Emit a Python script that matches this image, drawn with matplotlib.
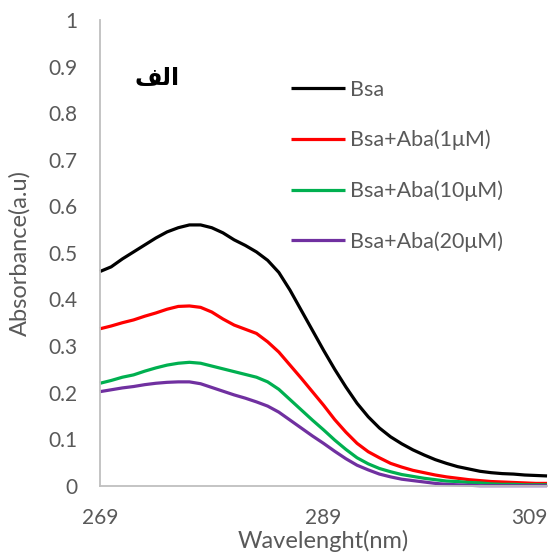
import matplotlib.pyplot as plt
import numpy as np

# wavelength grid (nm)
wavelength = [269, 270, 271, 272, 273, 274, 275, 276, 277, 278, 279, 280, 281, 282,
              283, 284, 285, 286, 287, 288, 289, 290, 291, 292, 293, 294, 295, 296,
              297, 298, 299, 300, 301, 302, 303, 304, 305, 306, 307, 308, 309]

bsa = [0.460, 0.470, 0.487, 0.502, 0.517, 0.532, 0.545, 0.554, 0.560, 0.560, 0.554,
       0.543, 0.528, 0.516, 0.502, 0.484, 0.458, 0.420, 0.377, 0.334, 0.291, 0.250,
       0.212, 0.177, 0.148, 0.124, 0.105, 0.090, 0.077, 0.066, 0.056, 0.048, 0.041,
       0.036, 0.031, 0.028, 0.026, 0.025, 0.023, 0.022, 0.021]

aba_1 = [0.337, 0.343, 0.350, 0.356, 0.364, 0.371, 0.379, 0.385, 0.386, 0.383, 0.373,
         0.358, 0.345, 0.336, 0.327, 0.309, 0.287, 0.259, 0.231, 0.202, 0.173, 0.142,
         0.115, 0.091, 0.073, 0.060, 0.048, 0.040, 0.033, 0.028, 0.023, 0.019, 0.016,
         0.013, 0.011, 0.009, 0.008, 0.007, 0.006, 0.005, 0.005]

aba_10 = [0.220, 0.226, 0.233, 0.238, 0.246, 0.253, 0.259, 0.263, 0.265, 0.263, 0.257,
          0.251, 0.245, 0.239, 0.233, 0.223, 0.207, 0.185, 0.163, 0.141, 0.120, 0.098,
          0.078, 0.060, 0.047, 0.037, 0.030, 0.024, 0.020, 0.016, 0.013, 0.010, 0.009,
          0.007, 0.006, 0.004, 0.003, 0.003, 0.002, 0.002, 0.002]

aba_20 = [0.202, 0.206, 0.210, 0.213, 0.217, 0.220, 0.222, 0.223, 0.223, 0.219, 0.211,
          0.203, 0.195, 0.188, 0.180, 0.171, 0.158, 0.141, 0.124, 0.107, 0.091, 0.074,
          0.058, 0.044, 0.034, 0.025, 0.019, 0.014, 0.011, 0.008, 0.005, 0.003, 0.002,
          0.001, 0.000, 0.000, 0.000, 0.000, 0.000, 0.000, 0.000]

labels = ['Bsa', 'Bsa+Aba(1μM)', 'Bsa+Aba(10μM)', 'Bsa+Aba(20μM)']
colors = ['#000000', '#FF0000', '#00B050', '#7030A0']
y_ticks = [0, 0.1, 0.2, 0.3, 0.4, 0.5, 0.6, 0.7, 0.8, 0.9, 1]
x_ticks = [269, 289, 309]

plt.rcParams['font.family'] = ['Lato', 'DejaVu Sans']
gray = '#595959'

fig = plt.figure(figsize=(5.52, 5.56), dpi=100)
ax = fig.add_axes([0.1812, 0.1264, 0.8098, 0.8376])

for series, lab, col in zip([bsa, aba_1, aba_10, aba_20], labels, colors):
    ax.plot(wavelength, series, color=col, lw=2.3, label=lab,
            solid_capstyle='butt', clip_on=False)

ax.set_xlim(269, 309)
ax.set_ylim(0, 1)
ax.set_xticks(x_ticks)
ax.set_xticklabels([str(t) for t in x_ticks])
ax.set_yticks(y_ticks)
ax.set_yticklabels(['0' if t == 0 else ('1' if t == 1 else f'{t:.1f}') for t in y_ticks])
ax.tick_params(length=0, labelsize=15, colors=gray)
ax.tick_params(axis='y', pad=16)
ax.tick_params(axis='x', pad=16)
ax.get_xticklabels()[-1].set_ha('right')

for side in ['top', 'right']:
    ax.spines[side].set_visible(False)
for side in ['left', 'bottom']:
    ax.spines[side].set_color('#BFBFBF')
    ax.spines[side].set_linewidth(1.3)

ax.set_xlabel('Wavelenght(nm)', fontsize=17, color=gray)
ax.set_ylabel('Absorbance(a.u)', fontsize=17, color=gray)
ax.xaxis.set_label_coords(0.5, -0.094)
ax.yaxis.set_label_coords(-0.155, 0.5)

# panel label "alef" in shaped presentation forms
ax.text(0.1275, 0.876, '\uFED2\uFEDF\uFE8D', transform=ax.transAxes, fontsize=17,
        fontweight='bold', family=['DejaVu Sans'], ha='center', va='center')

ax.legend(loc='upper left', bbox_to_anchor=(0.385, 0.9135), frameon=False,
          fontsize=15.5, handlelength=2.47, handletextpad=0.23, labelspacing=1.40,
          labelcolor=gray)

fig.savefig('out.png', dpi=100)
